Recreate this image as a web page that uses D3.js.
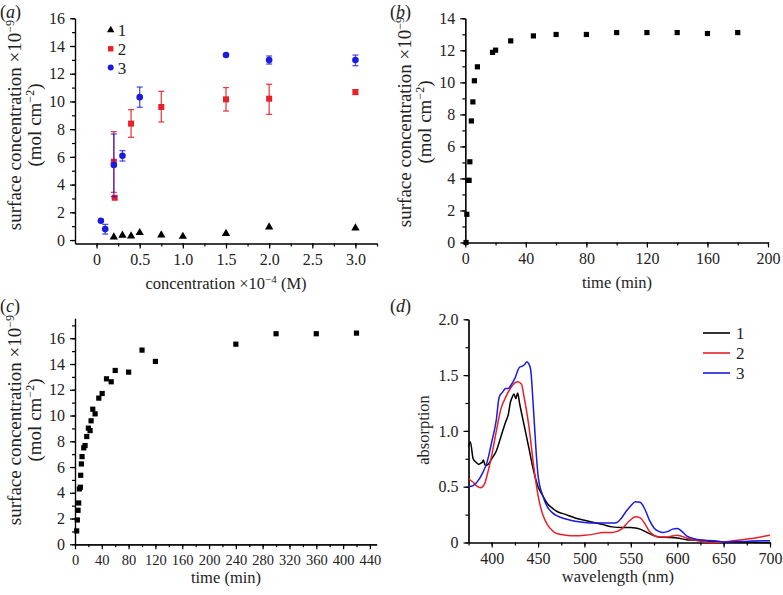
<!DOCTYPE html>
<html>
<head>
<meta charset="utf-8">
<script src="https://cdn.jsdelivr.net/npm/d3@7"></script>
<style>
  body { margin: 0; background: #fff; }
  svg, svg text { font-family: "Liberation Serif", "DejaVu Serif", serif; }
  .axis path, .axis line { stroke: #000; stroke-width: 1.2; }
  .axis text { fill: #222; }
</style>
</head>
<body>
<div id="chart"></div>
<script>
// ---- panel (a): surface concentration vs concentration ----
const a1X = [0.2, 0.3, 0.4, 0.5, 0.75, 1.0, 1.5, 2.0, 3.0];
const a1Y = [0.22, 0.34, 0.29, 0.53, 0.36, 0.26, 0.46, 0.94, 0.87];

const a2X = [0.2, 0.21, 0.4, 0.75, 1.5, 2.0, 3.0];
const a2Y = [5.65, 3.05, 8.4, 9.6, 10.15, 10.2, 10.68];
const a2Lo = [3.44, null, 7.41, 8.52, 9.31, 9.07, 10.5];
const a2Hi = [7.82, null, 9.41, 10.73, 11.0, 11.24, 10.85];

const a3X = [0.05, 0.1, 0.2, 0.3, 0.5, 1.5, 2.0, 3.0];
const a3Y = [1.39, 0.79, 5.41, 6.08, 10.31, 13.35, 12.99, 12.99];
const a3Lo = [null, 0.43, 3.13, 5.7, 9.58, null, 12.7, 12.58];
const a3Hi = [null, 1.13, 7.65, 6.45, 11.04, null, 13.28, 13.35];

// ---- panel (b): surface concentration vs time ----
const bT = [0.5, 1, 1.5, 2.5, 3, 4, 5, 6, 8, 18, 20, 30, 45, 60, 80, 100, 120, 140, 160, 180];
const bY = [0, 1.76, 3.88, 3.88, 5.04, 7.59, 8.78, 10.1, 10.97, 11.87, 12.01, 12.59, 12.9, 12.99, 12.99, 13.11, 13.11, 13.11, 13.05, 13.11];

// ---- panel (c): surface concentration vs time (long) ----
const cT = [2.5, 3.5, 4.5, 5.5, 6.5, 8, 8.5, 9.5, 10.5, 13, 15, 17.5, 20, 22.5, 24, 26.5, 30, 35.5, 40.5, 47, 54, 60, 80, 100, 120, 240, 300, 360, 420];
const cY = [1.04, 1.89, 2.64, 3.21, 4.3, 4.43, 5.36, 6.24, 6.81, 7.49, 7.67, 8.37, 9.02, 8.83, 9.59, 10.49, 10.13, 11.35, 11.71, 12.85, 12.62, 13.5, 13.37, 15.08, 14.2, 15.54, 16.35, 16.35, 16.4];

// ---- panel (d): absorption spectra ----
const d1Wl = [375, 377, 380, 383, 386, 388, 390, 391, 393, 396, 400, 405, 410, 415, 418, 420, 422, 424, 426, 428, 430, 435, 440, 445, 450, 455, 460, 465, 470, 480, 490, 500, 510, 520, 530, 540, 550, 555, 560, 570, 580, 590, 600, 610, 620, 640, 660, 680, 700];
const d1Ab = [0.86, 0.9, 0.75, 0.72, 0.7, 0.71, 0.72, 0.74, 0.69, 0.7, 0.75, 0.82, 0.95, 1.08, 1.15, 1.25, 1.3, 1.33, 1.29, 1.34, 1.25, 1.05, 0.85, 0.65, 0.5, 0.42, 0.35, 0.31, 0.28, 0.25, 0.22, 0.2, 0.18, 0.16, 0.14, 0.135, 0.135, 0.13, 0.12, 0.08, 0.05, 0.045, 0.04, 0.025, 0.02, 0.01, 0.005, 0.002, 0];

const d2Wl = [375, 380, 385, 388, 392, 395, 400, 405, 410, 415, 420, 425, 428, 432, 435, 440, 445, 450, 455, 460, 465, 470, 480, 490, 500, 510, 520, 530, 540, 548, 555, 560, 565, 570, 580, 590, 600, 605, 610, 620, 630, 640, 650, 660, 670, 680, 690, 700];
const d2Ab = [0.57, 0.54, 0.5, 0.49, 0.52, 0.6, 0.78, 1.0, 1.2, 1.3, 1.38, 1.43, 1.44, 1.42, 1.3, 1.05, 0.7, 0.42, 0.25, 0.16, 0.11, 0.08, 0.065, 0.06, 0.065, 0.075, 0.09, 0.09, 0.12, 0.19, 0.23, 0.22, 0.17, 0.1, 0.05, 0.05, 0.065, 0.055, 0.04, 0.02, 0.005, 0, 0.005, 0.015, 0.025, 0.035, 0.05, 0.065];

const d3Wl = [375, 380, 385, 390, 395, 400, 405, 408, 412, 415, 418, 420, 425, 430, 433, 436, 438, 440, 442, 445, 448, 450, 455, 460, 465, 470, 480, 490, 500, 510, 520, 530, 535, 540, 545, 550, 555, 560, 565, 570, 575, 580, 585, 590, 595, 600, 605, 610, 620, 630, 640, 650, 670, 690, 700];
const d3Ab = [0.5, 0.51, 0.55, 0.62, 0.72, 0.9, 1.1, 1.3, 1.35, 1.38, 1.38, 1.4, 1.47, 1.57, 1.58, 1.6, 1.62, 1.6, 1.55, 1.2, 0.8, 0.6, 0.42, 0.32, 0.27, 0.24, 0.21, 0.19, 0.18, 0.175, 0.175, 0.175, 0.18, 0.22, 0.28, 0.33, 0.365, 0.36, 0.3, 0.2, 0.13, 0.1, 0.09, 0.1, 0.12, 0.125, 0.1, 0.06, 0.03, 0.02, 0.015, 0.005, 0.01, 0.015, 0.015];

const legendA = ["1", "2", "3"];
const legendD = ["1", "2", "3"];

const RED = "#e8202a";
const BLUE = "#1a1ae0";
const SERIF = "'Liberation Serif', 'DejaVu Serif', serif";

const svg = d3.select("#chart").append("svg")
    .attr("width", 783)
    .attr("height", 595);

// Draw x/y axes with major (labelled) and minor ticks
function drawAxes(x, y, xMajor, xMinor, yMajor, yMinor, xFmt, yFmt, xFont) {
    const yb = y.range()[0];
    const xl = x.range()[0];

    svg.append("g").attr("class", "axis")
        .attr("transform", "translate(0," + yb + ")")
        .call(d3.axisBottom(x).tickValues(xMinor).tickSize(3).tickSizeOuter(0).tickFormat(""));
    svg.append("g").attr("class", "axis")
        .attr("transform", "translate(0," + yb + ")")
        .call(d3.axisBottom(x).tickValues(xMajor).tickSize(5).tickPadding(5).tickSizeOuter(0).tickFormat(xFmt))
        .attr("font-family", SERIF).attr("font-size", xFont || 16);

    svg.append("g").attr("class", "axis")
        .attr("transform", "translate(" + xl + ",0)")
        .call(d3.axisLeft(y).tickValues(yMinor).tickSize(3).tickSizeOuter(0).tickFormat(""));
    svg.append("g").attr("class", "axis")
        .attr("transform", "translate(" + xl + ",0)")
        .call(d3.axisLeft(y).tickValues(yMajor).tickSize(5).tickPadding(5).tickSizeOuter(0).tickFormat(yFmt))
        .attr("font-family", SERIF).attr("font-size", 16);
}

// y title "surface concentration ×10^-9 (mol cm^-2)" on two rotated lines
function surfaceTitle(cx, cy) {
    const t1 = svg.append("text")
        .attr("transform", "translate(" + cx + "," + cy + ") rotate(-90)")
        .attr("text-anchor", "middle")
        .style("font-size", "19px")
        .attr("fill", "#222");
    t1.append("tspan").text("surface concentration ×10");
    t1.append("tspan").attr("dy", -7).style("font-size", "12px").text("−9");

    const t2 = svg.append("text")
        .attr("transform", "translate(" + (cx + 20) + "," + cy + ") rotate(-90)")
        .attr("text-anchor", "middle")
        .style("font-size", "19px")
        .attr("fill", "#222");
    t2.append("tspan").text("(mol cm");
    t2.append("tspan").attr("dy", -7).style("font-size", "12px").text("−2");
    t2.append("tspan").attr("dy", 7).text(")");
}

function panelLabel(x, y, letter) {
    const t = svg.append("text").attr("x", x).attr("y", y)
        .style("font-size", "18px").attr("fill", "#222");
    t.append("tspan").text("(");
    t.append("tspan").style("font-style", "italic").text(letter);
    t.append("tspan").text(")");
}

const fmt1 = d => d === 0 ? "0" : d3.format(".1f")(d);

// ================= (a) =================
const xA = d3.scaleLinear().domain([-0.25, 3.25]).range([75, 377]);
const yA = d3.scaleLinear().domain([-0.25, 16]).range([243.5, 18.3]);

drawAxes(xA, yA,
    d3.range(0, 3.01, 0.5), d3.range(0, 3.26, 0.25),
    d3.range(0, 16.1, 2), d3.range(0, 16.1, 1),
    fmt1, d3.format("d"));

// error bars
function errorBars(xs, lo, hi, color, opacity) {
    xs.forEach((xv, i) => {
        if (lo[i] == null) return;
        const px = xA(xv);
        const g = svg.append("g").attr("stroke", color).attr("stroke-width", 1.3)
            .attr("stroke-opacity", opacity);
        g.append("line").attr("x1", px).attr("x2", px).attr("y1", yA(lo[i])).attr("y2", yA(hi[i]));
        g.append("line").attr("x1", px - 3).attr("x2", px + 3).attr("y1", yA(lo[i])).attr("y2", yA(lo[i]));
        g.append("line").attr("x1", px - 3).attr("x2", px + 3).attr("y1", yA(hi[i])).attr("y2", yA(hi[i]));
    });
}
errorBars(a2X, a2Lo, a2Hi, RED, 0.85);

svg.selectAll(".sqA")
    .data(a2X)
    .enter().append("rect")
    .attr("x", (d, i) => xA(d) - 3)
    .attr("y", (d, i) => yA(a2Y[i]) - 3)
    .attr("width", 6)
    .attr("height", 6)
    .attr("fill", RED);

errorBars(a3X, a3Lo, a3Hi, BLUE, 0.75);

svg.selectAll(".cirA")
    .data(a3X)
    .enter().append("circle")
    .attr("cx", d => xA(d))
    .attr("cy", (d, i) => yA(a3Y[i]))
    .attr("r", 3.3)
    .attr("fill", BLUE);

const tri = d3.symbol().type(d3.symbolTriangle).size(30);
svg.selectAll(".triA")
    .data(a1X)
    .enter().append("path")
    .attr("d", tri)
    .attr("transform", (d, i) => "translate(" + xA(d) + "," + yA(a1Y[i]) + ")")
    .attr("fill", "#000");

// legend (a)
const legA = svg.selectAll(".legA")
    .data(legendA)
    .enter().append("g")
    .attr("transform", (d, i) => "translate(110.7," + (30 + i * 18.8) + ")");
legA.filter((d, i) => i === 0).append("path").attr("d", d3.symbol().type(d3.symbolTriangle).size(24)).attr("fill", "#000");
legA.filter((d, i) => i === 1).append("rect").attr("x", -2.7).attr("y", -2.7).attr("width", 5.4).attr("height", 5.4).attr("fill", RED);
legA.filter((d, i) => i === 2).append("circle").attr("r", 3).attr("fill", BLUE);
legA.append("text").attr("x", 7).attr("y", 6).style("font-size", "17px").attr("fill", "#222").text(d => d);

panelLabel(0, 18, "a");
surfaceTitle(21, 125);
{
    const t = svg.append("text").attr("x", 226).attr("y", 289)
        .attr("text-anchor", "middle").style("font-size", "16.5px").attr("fill", "#222");
    t.append("tspan").text("concentration ×10");
    t.append("tspan").attr("dy", -6).style("font-size", "11px").text("−4");
    t.append("tspan").attr("dy", 6).text(" (M)");
}

// ================= (b) =================
const xB = d3.scaleLinear().domain([0, 200]).range([465.3, 768]);
const yB = d3.scaleLinear().domain([0, 14]).range([242.5, 18.3]);

drawAxes(xB, yB,
    d3.range(0, 201, 40), d3.range(0, 201, 20),
    d3.range(0, 14.1, 2), d3.range(0, 14.1, 1),
    d3.format("d"), d3.format("d"));

svg.selectAll(".sqB")
    .data(bT)
    .enter().append("rect")
    .attr("x", d => xB(d) - 2.6)
    .attr("y", (d, i) => yB(bY[i]) - 2.6)
    .attr("width", 5.2)
    .attr("height", 5.2)
    .attr("fill", "#000");

panelLabel(390, 18, "b");
surfaceTitle(411, 122);
svg.append("text").attr("x", 617).attr("y", 288)
    .attr("text-anchor", "middle").style("font-size", "16.5px").attr("fill", "#222")
    .text("time (min)");

// ================= (c) =================
const xC = d3.scaleLinear().domain([0, 450]).range([75, 376.6]);
const yC = d3.scaleLinear().domain([0, 17.55]).range([544.3, 318.3]);

drawAxes(xC, yC,
    d3.range(0, 441, 40), d3.range(0, 441, 20),
    d3.range(0, 16.1, 2), d3.range(0, 17.1, 1),
    d3.format("d"), d3.format("d"), 14.5);

svg.selectAll(".sqC")
    .data(cT)
    .enter().append("rect")
    .attr("x", d => xC(d) - 2.6)
    .attr("y", (d, i) => yC(cY[i]) - 2.6)
    .attr("width", 5.2)
    .attr("height", 5.2)
    .attr("fill", "#000");

panelLabel(0, 312, "c");
surfaceTitle(21, 420);
svg.append("text").attr("x", 226).attr("y", 583)
    .attr("text-anchor", "middle").style("font-size", "16.5px").attr("fill", "#222")
    .text("time (min)");

// ================= (d) =================
const xD = d3.scaleLinear().domain([375, 700]).range([468.5, 770]);
const yD = d3.scaleLinear().domain([0, 2]).range([542.5, 319.3]);

drawAxes(xD, yD,
    d3.range(400, 701, 50), d3.range(375, 701, 25),
    d3.range(0, 2.01, 0.5), d3.range(0, 2.01, 0.25),
    d3.format("d"), fmt1);

const spectra = [
    { wl: d1Wl, ab: d1Ab, color: "#000" },
    { wl: d2Wl, ab: d2Ab, color: RED },
    { wl: d3Wl, ab: d3Ab, color: BLUE }
];
const line = d3.line()
    .x(d => xD(d[0]))
    .y(d => yD(d[1]))
    .curve(d3.curveMonotoneX);

spectra.forEach(s => {
    svg.append("path")
        .datum(s.wl.map((w, i) => [w, s.ab[i]]))
        .attr("d", line)
        .attr("fill", "none")
        .attr("stroke", s.color)
        .attr("stroke-width", 1.5);
});

const legD = svg.selectAll(".legD")
    .data(legendD)
    .enter().append("g")
    .attr("transform", (d, i) => "translate(703," + (333 + i * 20) + ")");
legD.append("line").attr("x1", 0).attr("x2", 27).attr("y1", 0).attr("y2", 0)
    .attr("stroke", (d, i) => spectra[i].color).attr("stroke-width", 1.6);
legD.append("text").attr("x", 33).attr("y", 6).style("font-size", "17px").attr("fill", "#222").text(d => d);

panelLabel(390, 312, "d");
svg.append("text")
    .attr("transform", "translate(429,430) rotate(-90)")
    .attr("text-anchor", "middle").style("font-size", "16.5px").attr("fill", "#222")
    .text("absorption");
svg.append("text").attr("x", 618).attr("y", 582)
    .attr("text-anchor", "middle").style("font-size", "16.5px").attr("fill", "#222")
    .text("wavelength (nm)");
</script>
</body>
</html>
